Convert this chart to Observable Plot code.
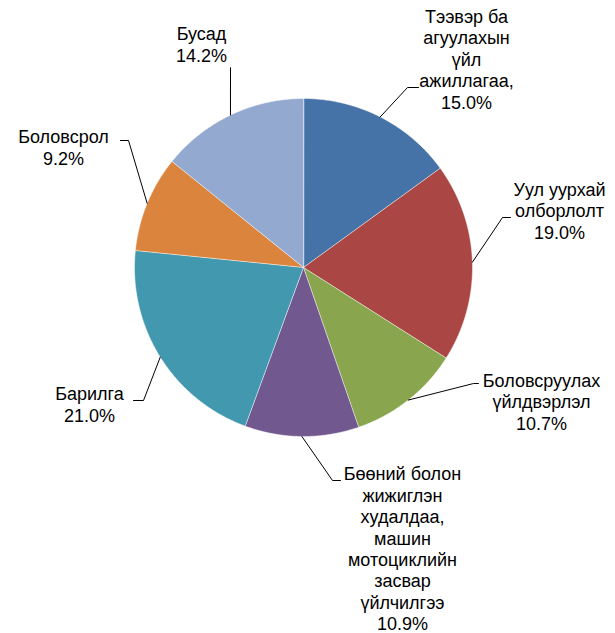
<!DOCTYPE html>
<html>
<head>
<meta charset="utf-8">
<script src="https://cdn.jsdelivr.net/npm/d3@7"></script>
<script src="https://cdn.jsdelivr.net/npm/@observablehq/plot@0.6"></script>
<style>
  html, body { margin: 0; padding: 0; background: #fff; }
  #chart { width: 615px; height: 633px; }
</style>
</head>
<body>
<div id="chart"></div>
<script>
// ---- data ----
const categories = [
  "Тээвэр ба агуулахын үйл ажиллагаа",
  "Уул уурхай олборлолт",
  "Боловсруулах үйлдвэрлэл",
  "Бөөний болон жижиглэн худалдаа, машин мотоциклийн засвар үйлчилгээ",
  "Барилга",
  "Боловсрол",
  "Бусад"
];
const values = [15.0, 19.0, 10.7, 10.9, 21.0, 9.2, 14.2];
const labelTexts = [
  "Тээвэр ба\nагуулахын\nүйл\nажиллагаа,\n15.0%",
  "Уул уурхай\nолборлолт\n19.0%",
  "Боловсруулах\nүйлдвэрлэл\n10.7%",
  "Бөөний болон\nжижиглэн\nхудалдаа,\nмашин\nмотоциклийн\nзасвар\nүйлчилгээ\n10.9%",
  "Барилга\n21.0%",
  "Боловсрол\n9.2%",
  "Бусад\n14.2%"
];

// ---- style / layout ----
const colors = ["#4572A7", "#AA4643", "#89A54E", "#71588F", "#4198AF", "#DB843D", "#93A9CF"];
const R = 169;                        // pie radius (in plot units = px offset from center)
// label block centers (offset from pie center)
const labelX = [163, 256, 238, 99, -214, -240, -102];
const labelY = [-208.5, -57, 134, 281, 136.5, -120.5, -223.5];
// leader line elbow and end points (offset from pie center)
const elbowX = [104, 199, 170, 29, -160, -175, -73];
const elbowY = [-180, -50, 116, 213, 133, -127, -200];
const endX   = [115, 207, 175, 37, -170, -183, -73];
const endY   = [-180, -50, 116, 213, 133, -127, -200];
const edgeAngleOverride = [null, null, null, null, null, null, 334.4];

// ---- geometry through scales ----
const total = d3.sum(values);
let cum = 0;
const slices = values.map((v, i) => {
  const a0 = cum / total * 360; cum += v;
  const a1 = cum / total * 360;
  return {name: categories[i], a0, a1, mid: (a0 + a1) / 2};
});
const rad = a => a * Math.PI / 180;
const slicePts = [];
slices.forEach(s => {
  slicePts.push({name: s.name, x: 0, y: 0});
  const n = Math.max(2, Math.ceil((s.a1 - s.a0) / 0.5));
  for (let k = 0; k <= n; k++) {
    const a = s.a0 + (s.a1 - s.a0) * k / n;
    slicePts.push({name: s.name, x: R * Math.sin(rad(a)), y: -R * Math.cos(rad(a))});
  }
});
const leaderPts = [];
slices.forEach((s, i) => {
  const a = edgeAngleOverride[i] ?? s.mid;
  leaderPts.push({name: s.name, x: R * Math.sin(rad(a)), y: -R * Math.cos(rad(a))});
  leaderPts.push({name: s.name, x: elbowX[i], y: elbowY[i]});
  leaderPts.push({name: s.name, x: endX[i], y: endY[i]});
});
const labels = categories.map((c, i) => ({name: c, text: labelTexts[i], x: labelX[i], y: labelY[i]}));

const chart = Plot.plot({
  width: 615,
  height: 633,
  margin: 0,
  x: {domain: [-303, 312], range: [0, 615], axis: null},
  y: {domain: [-267, 366], range: [0, 633], axis: null},
  color: {domain: categories, range: colors},
  style: {fontFamily: "'Liberation Sans', Arial, sans-serif", background: "#fff"},
  marks: [
    Plot.line(slicePts, {x: "x", y: "y", z: "name", fill: "name", stroke: "#ffffff", strokeOpacity: 0.5, strokeWidth: 1, curve: "linear-closed"}),
    Plot.line(leaderPts, {x: "x", y: "y", z: "name", stroke: "#000", strokeWidth: 1}),
    Plot.text(labels, {x: "x", y: "y", text: "text", fontSize: 18, lineHeight: 1.19, fill: "#000", textAnchor: "middle", lineAnchor: "middle"})
  ]
});
document.getElementById("chart").appendChild(chart);
</script>
</body>
</html>
